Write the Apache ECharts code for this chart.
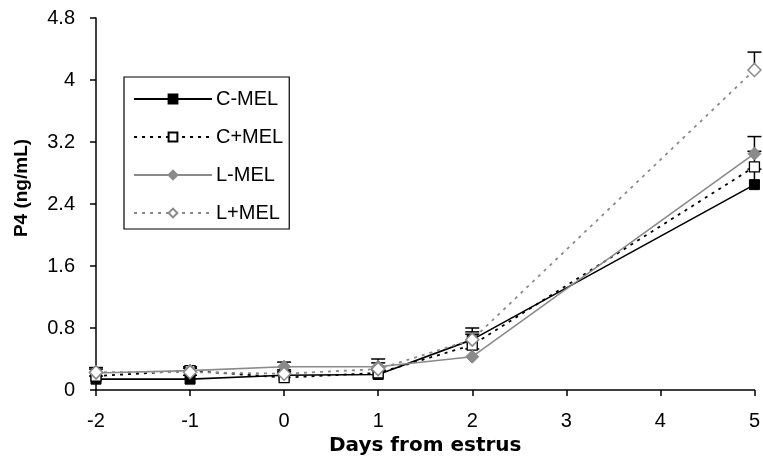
<!DOCTYPE html>
<html>
<head>
<meta charset="utf-8">
<script src="https://cdn.jsdelivr.net/npm/echarts@6/dist/echarts.min.js"></script>
<style>
  html, body { margin: 0; padding: 0; background: #fff; }
  #chart { width: 763px; height: 461px; }
</style>
</head>
<body>
<div id="chart"></div>
<script>
// Progesterone (P4) concentrations by day relative to estrus
const days = [-2, -1, 0, 1, 2, 5];
const seriesNames = ['C-MEL', 'C+MEL', 'L-MEL', 'L+MEL'];

const cMel      = [0.14, 0.14, 0.19, 0.20, 0.65, 2.65];
const cPlusMel  = [0.18, 0.25, 0.16, 0.22, 0.58, 2.88];
const lMel      = [0.22, 0.25, 0.30, 0.30, 0.43, 3.05];
const lPlusMel  = [0.23, 0.23, 0.21, 0.27, 0.65, 4.13];

// upper standard errors
const cMelErr     = [0.04, 0.05, 0.05, 0.06, 0.15, 0.20];
const cPlusMelErr = [0.05, 0.05, 0.06, 0.06, 0.14, 0.20];
const lMelErr     = [0.05, 0.05, 0.06, 0.10, 0.10, 0.22];
const lPlusMelErr = [0.06, 0.05, 0.05, 0.08, 0.10, 0.23];

const yTickLabels = ['0', '0.8', '1.6', '2.4', '3.2', '4', '4.8'];

const GREY = '#8a8a8a';

function pairs(vals) { return days.map((d, i) => [d, vals[i]]); }

function errorSeries(vals, errs, z) {
  return {
    type: 'custom',
    silent: true,
    z: z,
    data: days.map((d, i) => [d, vals[i], vals[i] + errs[i]]),
    renderItem: function (params, api) {
      const base = api.coord([api.value(0), api.value(1)]);
      const top = api.coord([api.value(0), api.value(2)]);
      const half = 7;
      return {
        type: 'group',
        children: [
          { type: 'line', shape: { x1: base[0], y1: base[1], x2: top[0], y2: top[1] },
            style: { stroke: '#000', lineWidth: 1.5 } },
          { type: 'line', shape: { x1: top[0] - half, y1: top[1], x2: top[0] + half, y2: top[1] },
            style: { stroke: '#000', lineWidth: 1.5 } }
        ]
      };
    }
  };
}

const chart = echarts.init(document.getElementById('chart'), null, { renderer: 'canvas' });

const font = 'Liberation Sans, Arial, sans-serif';
const titleFont = 'DejaVu Sans, sans-serif';

chart.setOption({
  animation: false,
  backgroundColor: '#fff',
  textStyle: { fontFamily: font },
  grid: { left: 96, right: 6, top: 18, bottom: 71, containLabel: false },
  legend: {
    left: 124,
    top: 77,
    orient: 'vertical',
    padding: [12, 6, 6, 9],
    itemGap: 18,
    itemWidth: 78,
    itemHeight: 11,
    borderColor: '#000',
    borderWidth: 1.2,
    backgroundColor: '#fff',
    textStyle: { fontFamily: font, fontSize: 20, color: '#000', padding: [0, 0, 0, -1] },
    data: seriesNames
  },
  xAxis: {
    type: 'value',
    min: -2,
    max: 5,
    interval: 1,
    name: 'Days from estrus',
    nameLocation: 'middle',
    nameGap: 43,
    nameTextStyle: { fontFamily: titleFont, fontSize: 20, fontWeight: 'bold', color: '#000' },
    axisLine: { onZero: false, lineStyle: { color: '#000', width: 1.5 } },
    axisTick: { show: true, inside: false, length: 6, lineStyle: { color: '#000', width: 1.5 } },
    axisLabel: { fontFamily: font, fontSize: 20, color: '#000', margin: 21 },
    splitLine: { show: false }
  },
  yAxis: {
    type: 'value',
    min: 0,
    max: 4.8,
    interval: 0.8,
    name: 'P4 (ng/mL)',
    nameLocation: 'middle',
    nameGap: 65,
    nameTextStyle: { fontFamily: font, fontSize: 19, fontWeight: 'bold', color: '#000', padding: [0, 0, 0, 32] },
    axisLine: { show: true, onZero: false, lineStyle: { color: '#000', width: 1.5 } },
    axisTick: { show: true, inside: false, length: 6, lineStyle: { color: '#000', width: 1.5 } },
    axisLabel: {
      fontFamily: font, fontSize: 20, color: '#000', margin: 21,
      formatter: function (v) { return yTickLabels[Math.round(v / 0.8)]; }
    },
    splitLine: { show: false }
  },
  series: [
    errorSeries(cMel, cMelErr, 1),
    errorSeries(cPlusMel, cPlusMelErr, 1),
    errorSeries(lMel, lMelErr, 1),
    errorSeries(lPlusMel, lPlusMelErr, 1),
    {
      name: 'C-MEL', type: 'line', z: 3, data: pairs(cMel),
      symbol: 'rect', symbolSize: 10,
      itemStyle: { color: '#000', borderColor: '#000', borderWidth: 1 },
      lineStyle: { color: '#000', width: 1.6, type: 'solid' }
    },
    {
      name: 'C+MEL', type: 'line', z: 4, data: pairs(cPlusMel),
      symbol: 'rect', symbolSize: 10,
      itemStyle: { color: '#fff', borderColor: '#000', borderWidth: 1.3 },
      lineStyle: { color: '#000', width: 1.8, type: [3, 5] }
    },
    {
      name: 'L-MEL', type: 'line', z: 5, data: pairs(lMel),
      symbol: 'diamond', symbolSize: 13,
      itemStyle: { color: GREY, borderColor: GREY, borderWidth: 1 },
      lineStyle: { color: GREY, width: 1.6, type: 'solid' }
    },
    {
      name: 'L+MEL', type: 'line', z: 6, data: pairs(lPlusMel),
      symbol: 'diamond', symbolSize: 13,
      itemStyle: { color: '#fff', borderColor: GREY, borderWidth: 1.5 },
      lineStyle: { color: GREY, width: 1.8, type: [3, 5] }
    }
  ]
});
</script>
</body>
</html>
